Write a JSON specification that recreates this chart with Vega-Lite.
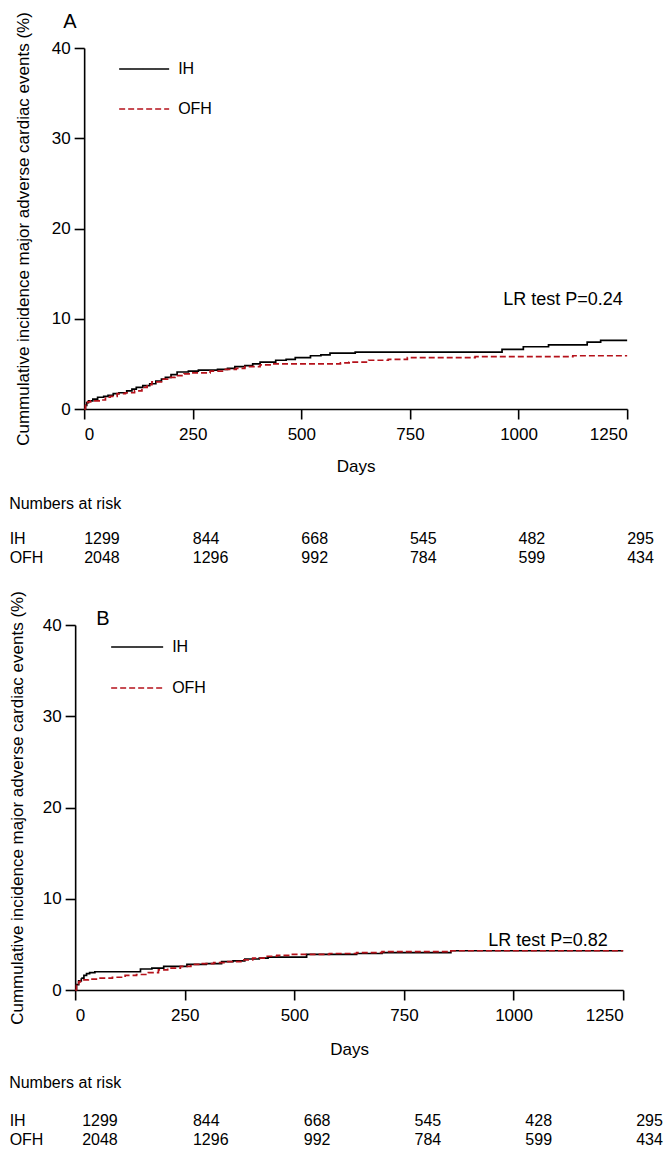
{
  "$schema": "https://vega.github.io/schema/vega-lite/v6.json",
  "background": "white",
  "padding": {"left": 8, "top": 11, "right": 2, "bottom": 4},
  "autosize": {"type": "pad"},
  "config": {
    "font": "Liberation Sans",
    "view": {"stroke": null},
    "axis": {
      "domainColor": "#000000", "domainWidth": 1.6, "tickColor": "#000000", "tickWidth": 1.6, "tickSize": 10,
      "labelColor": "#000000", "labelFontSize": 17, "titleColor": "#000000", "titleFontWeight": "normal", "grid": false
    },
    "legend": {"labelFontSize": 16, "labelColor": "#000000", "padding": 0, "offset": 0},
    "title": {"color": "#000000", "fontWeight": "normal"}
  },
  "datasets": {
    "kmA": [
      {"group": "IH", "day": 0, "pct": 0}, {"group": "IH", "day": 3, "pct": 0.4}, {"group": "IH", "day": 6, "pct": 0.7}, {"group": "IH", "day": 10, "pct": 0.9},
      {"group": "IH", "day": 20, "pct": 1.1}, {"group": "IH", "day": 31, "pct": 1.3}, {"group": "IH", "day": 45, "pct": 1.4}, {"group": "IH", "day": 55, "pct": 1.5},
      {"group": "IH", "day": 67, "pct": 1.7}, {"group": "IH", "day": 80, "pct": 1.8}, {"group": "IH", "day": 98, "pct": 2.0}, {"group": "IH", "day": 110, "pct": 2.2},
      {"group": "IH", "day": 120, "pct": 2.4}, {"group": "IH", "day": 135, "pct": 2.6}, {"group": "IH", "day": 151, "pct": 2.8}, {"group": "IH", "day": 165, "pct": 3.1},
      {"group": "IH", "day": 178, "pct": 3.3}, {"group": "IH", "day": 187, "pct": 3.5}, {"group": "IH", "day": 200, "pct": 3.8}, {"group": "IH", "day": 214, "pct": 4.1},
      {"group": "IH", "day": 240, "pct": 4.2}, {"group": "IH", "day": 263, "pct": 4.3}, {"group": "IH", "day": 307, "pct": 4.4}, {"group": "IH", "day": 330, "pct": 4.5},
      {"group": "IH", "day": 347, "pct": 4.7}, {"group": "IH", "day": 370, "pct": 4.8}, {"group": "IH", "day": 388, "pct": 5.0}, {"group": "IH", "day": 405, "pct": 5.2},
      {"group": "IH", "day": 441, "pct": 5.4}, {"group": "IH", "day": 465, "pct": 5.5}, {"group": "IH", "day": 486, "pct": 5.7}, {"group": "IH", "day": 521, "pct": 5.9},
      {"group": "IH", "day": 545, "pct": 6.0}, {"group": "IH", "day": 566, "pct": 6.2}, {"group": "IH", "day": 624, "pct": 6.3}, {"group": "IH", "day": 962, "pct": 6.6},
      {"group": "IH", "day": 1011, "pct": 6.9}, {"group": "IH", "day": 1069, "pct": 7.1}, {"group": "IH", "day": 1158, "pct": 7.4}, {"group": "IH", "day": 1189, "pct": 7.6},
      {"group": "IH", "day": 1250, "pct": 7.6},
      {"group": "OFH", "day": 0, "pct": 0}, {"group": "OFH", "day": 3, "pct": 0.4}, {"group": "OFH", "day": 8, "pct": 0.8}, {"group": "OFH", "day": 15, "pct": 0.9},
      {"group": "OFH", "day": 40, "pct": 1.0}, {"group": "OFH", "day": 49, "pct": 1.3}, {"group": "OFH", "day": 60, "pct": 1.4}, {"group": "OFH", "day": 76, "pct": 1.7},
      {"group": "OFH", "day": 95, "pct": 1.8}, {"group": "OFH", "day": 116, "pct": 2.0}, {"group": "OFH", "day": 133, "pct": 2.4}, {"group": "OFH", "day": 145, "pct": 2.7},
      {"group": "OFH", "day": 156, "pct": 3.0}, {"group": "OFH", "day": 178, "pct": 3.3}, {"group": "OFH", "day": 195, "pct": 3.5}, {"group": "OFH", "day": 209, "pct": 3.7},
      {"group": "OFH", "day": 230, "pct": 3.9}, {"group": "OFH", "day": 245, "pct": 4.0}, {"group": "OFH", "day": 290, "pct": 4.2}, {"group": "OFH", "day": 325, "pct": 4.4},
      {"group": "OFH", "day": 350, "pct": 4.5}, {"group": "OFH", "day": 370, "pct": 4.7}, {"group": "OFH", "day": 405, "pct": 4.9}, {"group": "OFH", "day": 430, "pct": 5.0},
      {"group": "OFH", "day": 590, "pct": 5.1}, {"group": "OFH", "day": 610, "pct": 5.2}, {"group": "OFH", "day": 655, "pct": 5.4}, {"group": "OFH", "day": 700, "pct": 5.5},
      {"group": "OFH", "day": 744, "pct": 5.7}, {"group": "OFH", "day": 900, "pct": 5.8}, {"group": "OFH", "day": 1125, "pct": 5.9}, {"group": "OFH", "day": 1250, "pct": 5.9}
    ],
    "kmB": [
      {"group": "IH", "day": 0, "pct": 0}, {"group": "IH", "day": 3, "pct": 0.6}, {"group": "IH", "day": 8, "pct": 1.0}, {"group": "IH", "day": 14, "pct": 1.3},
      {"group": "IH", "day": 20, "pct": 1.6}, {"group": "IH", "day": 26, "pct": 1.8}, {"group": "IH", "day": 33, "pct": 1.9}, {"group": "IH", "day": 45, "pct": 2.0},
      {"group": "IH", "day": 149, "pct": 2.3}, {"group": "IH", "day": 175, "pct": 2.4}, {"group": "IH", "day": 202, "pct": 2.6}, {"group": "IH", "day": 255, "pct": 2.8},
      {"group": "IH", "day": 299, "pct": 2.9}, {"group": "IH", "day": 334, "pct": 3.1}, {"group": "IH", "day": 360, "pct": 3.2}, {"group": "IH", "day": 387, "pct": 3.4},
      {"group": "IH", "day": 420, "pct": 3.5}, {"group": "IH", "day": 440, "pct": 3.6}, {"group": "IH", "day": 528, "pct": 3.9}, {"group": "IH", "day": 642, "pct": 4.0},
      {"group": "IH", "day": 700, "pct": 4.1}, {"group": "IH", "day": 857, "pct": 4.3}, {"group": "IH", "day": 1250, "pct": 4.3},
      {"group": "OFH", "day": 0, "pct": 0}, {"group": "OFH", "day": 3, "pct": 0.5}, {"group": "OFH", "day": 8, "pct": 0.9}, {"group": "OFH", "day": 12, "pct": 1.1},
      {"group": "OFH", "day": 30, "pct": 1.2}, {"group": "OFH", "day": 53, "pct": 1.3}, {"group": "OFH", "day": 85, "pct": 1.4}, {"group": "OFH", "day": 114, "pct": 1.6},
      {"group": "OFH", "day": 140, "pct": 1.7}, {"group": "OFH", "day": 167, "pct": 1.9}, {"group": "OFH", "day": 190, "pct": 2.2}, {"group": "OFH", "day": 211, "pct": 2.4},
      {"group": "OFH", "day": 240, "pct": 2.6}, {"group": "OFH", "day": 264, "pct": 2.8}, {"group": "OFH", "day": 290, "pct": 2.9}, {"group": "OFH", "day": 316, "pct": 3.0},
      {"group": "OFH", "day": 345, "pct": 3.1}, {"group": "OFH", "day": 378, "pct": 3.3}, {"group": "OFH", "day": 405, "pct": 3.5}, {"group": "OFH", "day": 431, "pct": 3.7},
      {"group": "OFH", "day": 460, "pct": 3.8}, {"group": "OFH", "day": 492, "pct": 3.9}, {"group": "OFH", "day": 580, "pct": 4.0}, {"group": "OFH", "day": 642, "pct": 4.1},
      {"group": "OFH", "day": 700, "pct": 4.2}, {"group": "OFH", "day": 857, "pct": 4.3}, {"group": "OFH", "day": 1250, "pct": 4.3}
    ],
    "riskA": [
      {"group": "IH", "day": 0, "n": 1299}, {"group": "IH", "day": 250, "n": 844}, {"group": "IH", "day": 500, "n": 668},
      {"group": "IH", "day": 750, "n": 545}, {"group": "IH", "day": 1000, "n": 482}, {"group": "IH", "day": 1250, "n": 295},
      {"group": "OFH", "day": 0, "n": 2048}, {"group": "OFH", "day": 250, "n": 1296}, {"group": "OFH", "day": 500, "n": 992},
      {"group": "OFH", "day": 750, "n": 784}, {"group": "OFH", "day": 1000, "n": 599}, {"group": "OFH", "day": 1250, "n": 434}
    ],
    "riskB": [
      {"group": "IH", "day": 0, "n": 1299}, {"group": "IH", "day": 250, "n": 844}, {"group": "IH", "day": 500, "n": 668},
      {"group": "IH", "day": 750, "n": 545}, {"group": "IH", "day": 1000, "n": 428}, {"group": "IH", "day": 1250, "n": 295},
      {"group": "OFH", "day": 0, "n": 2048}, {"group": "OFH", "day": 250, "n": 1296}, {"group": "OFH", "day": 500, "n": 992},
      {"group": "OFH", "day": 750, "n": 784}, {"group": "OFH", "day": 1000, "n": 599}, {"group": "OFH", "day": 1250, "n": 434}
    ]
  },
  "resolve": {"scale": {"color": "independent", "strokeDash": "independent"}, "legend": {"color": "independent", "strokeDash": "independent"}},
  "columns": 1,
  "center": true,
  "spacing": 23,
  "concat": [
    {
      "bounds": "flush",
      "spacing": 120,
      "vconcat": [
        {
          "width": 543,
          "height": 361,
          "title": {"text": "A", "anchor": "start", "frame": "group", "dx": -21, "offset": -20, "fontSize": 20},
          "layer": [
            {
              "data": {"name": "kmA"},
              "mark": {"type": "line", "interpolate": "step-after", "strokeWidth": 1.7},
              "encoding": {
                "x": {"field": "day", "type": "quantitative", "scale": {"domain": [0, 1250], "nice": false},
                      "axis": {"values": [0, 250, 500, 750, 1000, 1250], "format": "d", "title": "Days", "titleFontSize": 17, "labelPadding": 7, "titlePadding": 16}},
                "y": {"field": "pct", "type": "quantitative", "scale": {"domain": [0, 40], "nice": false},
                      "axis": {"values": [0, 10, 20, 30, 40], "title": "Cummulative incidence major adverse cardiac events (%)", "titleFontSize": 17, "labelPadding": 4, "titlePadding": 19}},
                "color": {"field": "group", "type": "nominal", "scale": {"domain": ["IH", "OFH"], "range": ["#000000", "#b5121b"]},
                          "legend": {"title": null, "orient": "none", "legendX": 34, "legendY": -5, "symbolType": "stroke", "symbolSize": 2500, "symbolStrokeWidth": 1.7, "labelOffset": 8, "rowPadding": 6}},
                "strokeDash": {"field": "group", "type": "nominal", "scale": {"domain": ["IH", "OFH"], "range": [[1, 0], [6, 3]]},
                          "legend": {"title": null, "orient": "none", "legendX": 34, "legendY": -5, "symbolType": "stroke", "symbolSize": 2500, "symbolStrokeWidth": 1.7, "labelOffset": 8, "rowPadding": 6}}
              }
            },
            {
              "data": {"values": [{"day": 1240, "pct": 12.1, "label": "LR test P=0.24"}]},
              "mark": {"type": "text", "align": "right", "baseline": "middle", "fontSize": 18},
              "encoding": {
                "x": {"field": "day", "type": "quantitative"},
                "y": {"field": "pct", "type": "quantitative"},
                "text": {"field": "label"}
              }
            }
          ]
        },
        {
          "width": 543,
          "height": 38,
          "data": {"name": "riskA"},
          "title": {"text": "Numbers at risk", "anchor": "start", "frame": "group", "dx": -75, "fontSize": 16, "offset": 17},
          "mark": {"type": "text", "align": "left", "baseline": "middle", "fontSize": 16},
          "encoding": {
            "x": {"field": "day", "type": "quantitative", "scale": {"domain": [0, 1250], "nice": false}, "axis": null},
            "y": {"field": "group", "type": "nominal", "sort": ["IH", "OFH"], "scale": {"paddingInner": 0, "paddingOuter": 0},
                  "axis": {"title": null, "domain": false, "ticks": false, "tickSize": 0, "labelAlign": "left", "labelPadding": 75, "labelFontSize": 16}},
            "text": {"field": "n", "type": "nominal"}
          }
        }
      ]
    },
    {
      "bounds": "flush",
      "spacing": 121,
      "vconcat": [
        {
          "width": 548,
          "height": 365,
          "title": {"text": "B", "anchor": "start", "frame": "group", "dx": 21, "offset": -38, "fontSize": 20},
          "layer": [
            {
              "data": {"name": "kmB"},
              "mark": {"type": "line", "interpolate": "step-after", "strokeWidth": 1.7},
              "encoding": {
                "x": {"field": "day", "type": "quantitative", "scale": {"domain": [0, 1250], "nice": false},
                      "axis": {"values": [0, 250, 500, 750, 1000, 1250], "format": "d", "title": "Days", "titleFontSize": 17, "labelPadding": 7, "titlePadding": 18}},
                "y": {"field": "pct", "type": "quantitative", "scale": {"domain": [0, 40], "nice": false},
                      "axis": {"values": [0, 10, 20, 30, 40], "title": "Cummulative incidence major adverse cardiac events (%)", "titleFontSize": 17, "labelPadding": 4, "titlePadding": 16}},
                "color": {"field": "group", "type": "nominal", "scale": {"domain": ["IH", "OFH"], "range": ["#000000", "#b5121b"]},
                          "legend": {"title": null, "orient": "none", "legendX": 35, "legendY": -5, "symbolType": "stroke", "symbolSize": 2704, "symbolStrokeWidth": 1.7, "labelOffset": 8, "rowPadding": 6}},
                "strokeDash": {"field": "group", "type": "nominal", "scale": {"domain": ["IH", "OFH"], "range": [[1, 0], [6, 3]]},
                          "legend": {"title": null, "orient": "none", "legendX": 35, "legendY": -5, "symbolType": "stroke", "symbolSize": 2704, "symbolStrokeWidth": 1.7, "labelOffset": 8, "rowPadding": 6}}
              }
            },
            {
              "data": {"values": [{"day": 1215, "pct": 5.4, "label": "LR test P=0.82"}]},
              "mark": {"type": "text", "align": "right", "baseline": "middle", "fontSize": 18},
              "encoding": {
                "x": {"field": "day", "type": "quantitative"},
                "y": {"field": "pct", "type": "quantitative"},
                "text": {"field": "label"}
              }
            }
          ]
        },
        {
          "width": 554,
          "height": 38,
          "data": {"name": "riskB"},
          "title": {"text": "Numbers at risk", "anchor": "start", "frame": "group", "dx": -66, "fontSize": 16, "offset": 20},
          "mark": {"type": "text", "align": "left", "baseline": "middle", "fontSize": 16, "dx": 7},
          "encoding": {
            "x": {"field": "day", "type": "quantitative", "scale": {"domain": [0, 1250], "nice": false}, "axis": null},
            "y": {"field": "group", "type": "nominal", "sort": ["IH", "OFH"], "scale": {"paddingInner": 0, "paddingOuter": 0},
                  "axis": {"title": null, "domain": false, "ticks": false, "tickSize": 0, "labelAlign": "left", "labelPadding": 66, "labelFontSize": 16}},
            "text": {"field": "n", "type": "nominal"}
          }
        }
      ]
    }
  ]
}
